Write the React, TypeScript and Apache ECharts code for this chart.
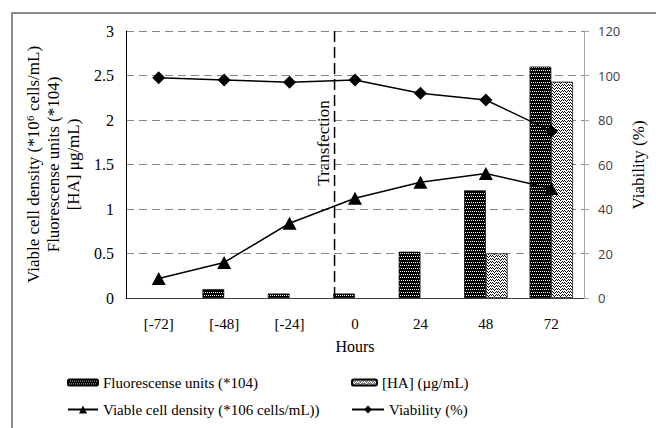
import React, { useEffect, useRef } from "react";
import * as echarts from "echarts";

const categories = ["[-72]", "[-48]", "[-24]", "0", "24", "48", "72"];
const fluorescence = [0, 0.1, 0.05, 0.05, 0.52, 1.21, 2.6];
const haConcentration = [0, 0, 0, 0, 0, 0.5, 2.43];
const cellDensity = [0.22, 0.4, 0.84, 1.12, 1.3, 1.4, 1.23];
const viability = [99, 98, 97, 98, 92, 89, 75];
const leftAxis = { min: 0, max: 3, interval: 0.5 };
const rightAxis = { min: 0, max: 120, interval: 20 };
const hourAxis = { min: -84, max: 84 };
const transfectionHour = -7.5;

const NAMES = {
  fluor: "Fluorescense units (*104)",
  ha: "[HA] (\u00b5g/mL)",
  cells: "Viable cell density (*106 cells/mL))",
  viab: "Viability (%)",
};

const SERIF = "Liberation Serif";
const SANS = "Open Sans";

function makePattern(w: number, h: number, bg: string, fg: string, pts: number[][]) {
  const c = document.createElement("canvas");
  c.width = w;
  c.height = h;
  const g = c.getContext("2d")!;
  g.fillStyle = bg;
  g.fillRect(0, 0, w, h);
  g.fillStyle = fg;
  pts.forEach(([x, y]) => g.fillRect(x, y, 1, 1));
  return { image: c.toDataURL(), repeat: "repeat", imageWidth: w, imageHeight: h } as any;
}

const skipZero = (arr: number[]) => arr.map((v) => (v === 0 ? "-" : v));

export default function App() {
  const ref = useRef<HTMLDivElement>(null);
  useEffect(() => {
    document.body.style.margin = "0";
    const chart = echarts.init(ref.current!, undefined, { renderer: "svg" });
    const fluorPattern = makePattern(4, 6, "#000", "#fff", [
      [0, 1], [2, 1], [1, 4], [3, 4],
    ]);
    const haPattern = makePattern(6, 6, "#fff", "#000", [
      [0, 0], [1, 1], [2, 2], [3, 1], [4, 0], [5, 1],
      [0, 3], [1, 4], [2, 5], [3, 4], [4, 3], [5, 4],
    ]);
    const legendText = { fontFamily: SERIF, fontSize: 15, color: "#000" };
    const legendBase = {
      padding: 0,
      selectedMode: false,
      textStyle: legendText,
      itemGap: 0,
    };
    chart.setOption({
      animation: false,
      backgroundColor: "#fff",
      textStyle: { fontFamily: SERIF },
      grid: { left: 126, right: 72, top: 31, bottom: 130, containLabel: false },
      xAxis: [
        {
          type: "category",
          data: categories,
          name: "Hours",
          nameLocation: "middle",
          nameGap: 40,
          nameTextStyle: { fontFamily: SERIF, fontSize: 16, color: "#000" },
          axisLine: { onZero: false, lineStyle: { color: "#404040", width: 1 } },
          axisTick: { alignWithLabel: true, length: 5, lineStyle: { color: "#404040" } },
          axisLabel: { fontFamily: SERIF, fontSize: 15, color: "#000", margin: 18 },
        },
        {
          type: "value",
          min: hourAxis.min,
          max: hourAxis.max,
          show: false,
          axisLine: { onZero: false },
        },
      ],
      yAxis: [
        {
          type: "value",
          min: leftAxis.min,
          max: leftAxis.max,
          interval: leftAxis.interval,
          name: "Viable cell density (*10\u2076 cells/mL)\nFluorescense units (*104)\n[HA] \u03bcg/mL)",
          nameLocation: "middle",
          nameRotate: 90,
          nameGap: 33,
          nameTextStyle: { fontFamily: SERIF, fontSize: 17, lineHeight: 20, color: "#000" },
          axisLine: { show: true, onZero: false, lineStyle: { color: "#000", width: 1 } },
          axisTick: { show: false },
          axisLabel: { fontFamily: SERIF, fontSize: 16, color: "#000", margin: 12 },
          splitLine: { lineStyle: { color: "#868686", type: [8, 5], width: 1 } },
        },
        {
          type: "value",
          position: "right",
          min: rightAxis.min,
          max: rightAxis.max,
          interval: rightAxis.interval,
          axisLine: { show: true, onZero: false, lineStyle: { color: "#a6a6a6", width: 1 } },
          axisTick: { show: true, length: 5, lineStyle: { color: "#a6a6a6" } },
          axisLabel: { fontFamily: SANS, fontSize: 13, color: "#404040", margin: 14 },
          splitLine: { show: false },
        },
      ],
      legend: [
        { ...legendBase, data: [NAMES.fluor], left: 67, top: 375, itemWidth: 30, itemHeight: 6 },
        { ...legendBase, data: [NAMES.ha], left: 351, top: 375, itemWidth: 25, itemHeight: 6 },
        { ...legendBase, data: [NAMES.cells], left: 67, top: 402, itemWidth: 30, itemHeight: 10 },
        { ...legendBase, data: [NAMES.viab], left: 351, top: 402, itemWidth: 32, itemHeight: 10 },
      ],
      graphic: [
        {
          type: "rect",
          shape: { x: 12, y: 13, width: 720, height: 500 },
          style: { fill: "none", stroke: "#8c8c8c", lineWidth: 2 },
          silent: true,
        },
        {
          type: "text",
          x: 638,
          y: 165,
          rotation: Math.PI / 2,
          style: {
            text: "Viability (%)",
            font: `17px "${SERIF}"`,
            fill: "#000",
            align: "center",
            verticalAlign: "middle",
          },
        },
        {
          type: "text",
          x: 323,
          y: 143,
          rotation: Math.PI / 2,
          style: {
            text: "Transfection",
            font: `17px "${SERIF}"`,
            fill: "#000",
            align: "center",
            verticalAlign: "middle",
          },
        },
      ],
      series: [
        {
          name: NAMES.fluor,
          type: "bar",
          data: skipZero(fluorescence),
          barWidth: 21.7,
          barGap: "0%",
          itemStyle: { color: fluorPattern, borderColor: "#000", borderWidth: 0.7 },
          z: 2,
        },
        {
          name: NAMES.ha,
          type: "bar",
          data: skipZero(haConcentration),
          barWidth: 21.7,
          barGap: "0%",
          itemStyle: { color: haPattern, borderColor: "#000", borderWidth: 0.7 },
          z: 2,
        },
        {
          name: "transfection",
          type: "line",
          xAxisIndex: 1,
          data: [
            [transfectionHour, leftAxis.min],
            [transfectionHour, leftAxis.max],
          ],
          symbol: "none",
          lineStyle: { color: "#000", width: 1.5, type: [11, 5] },
          z: 3,
          silent: true,
        },
        {
          name: NAMES.cells,
          type: "line",
          data: cellDensity,
          symbol: "triangle",
          symbolSize: [14, 13],
          lineStyle: { color: "#000", width: 1.5 },
          itemStyle: { color: "#000" },
          z: 5,
        },
        {
          name: NAMES.viab,
          type: "line",
          yAxisIndex: 1,
          data: viability,
          symbol: "diamond",
          symbolSize: 13,
          lineStyle: { color: "#000", width: 1.5 },
          itemStyle: { color: "#000" },
          z: 5,
        },
      ],
    });
    return () => chart.dispose();
  }, []);
  return (
    <div
      ref={ref}
      style={{ position: "absolute", left: 0, top: 0, width: 656, height: 428, background: "#fff" }}
    />
  );
}
